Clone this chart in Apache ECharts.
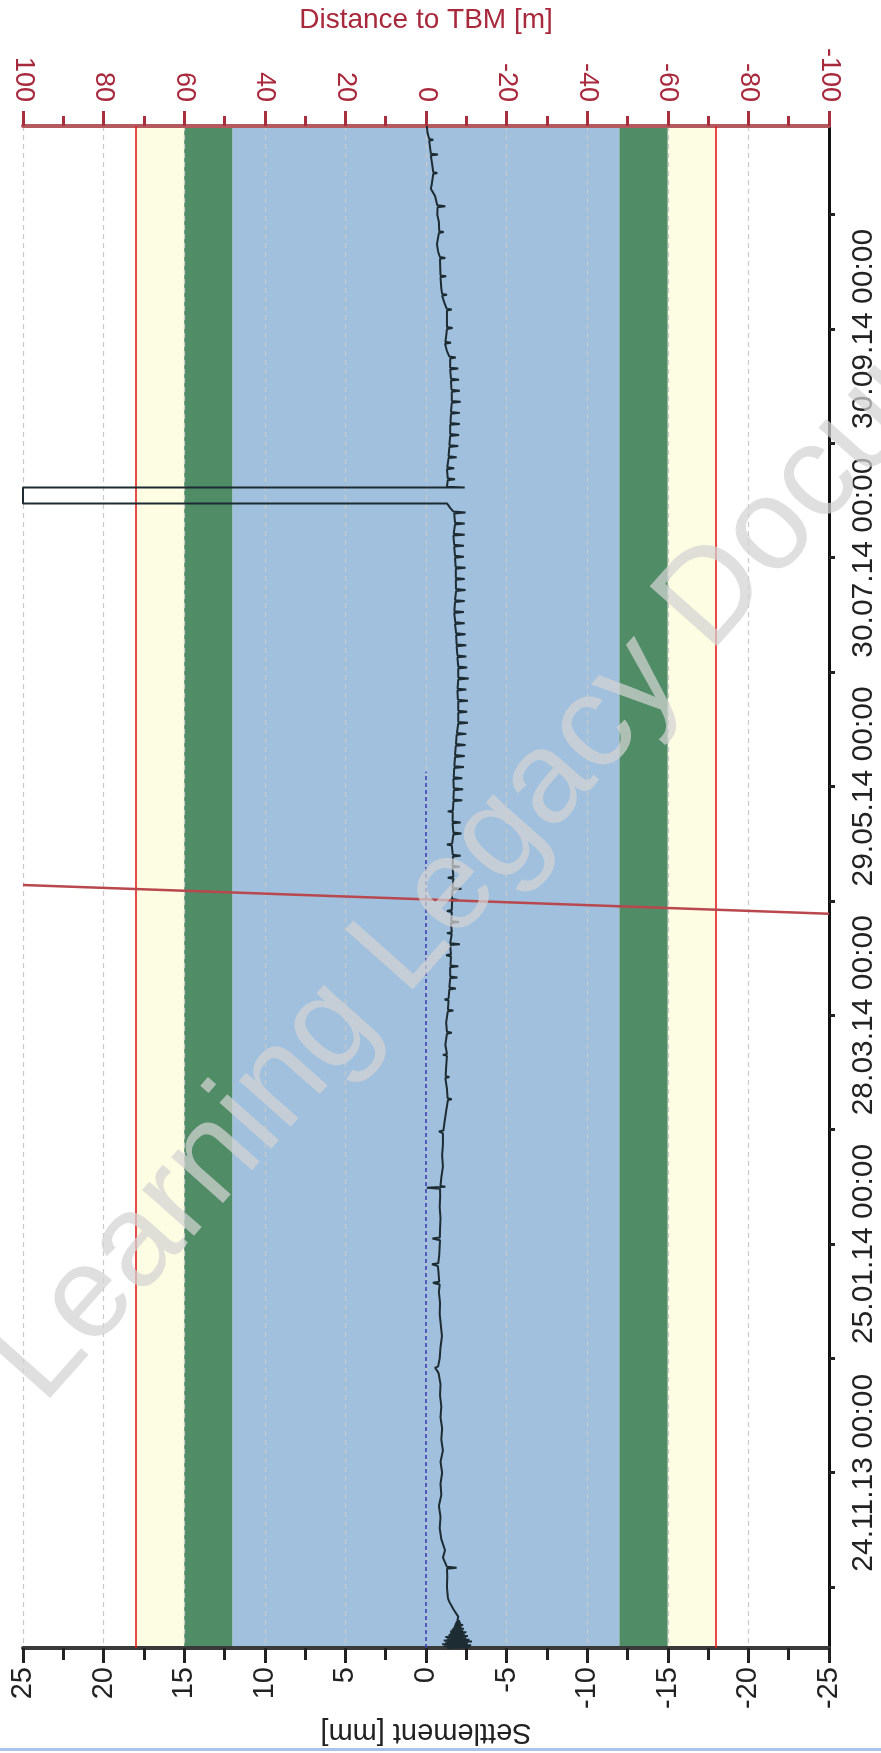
<!DOCTYPE html>
<html>
<head>
<meta charset="utf-8">
<script src="https://cdn.jsdelivr.net/npm/echarts@6/dist/echarts.min.js"></script>
<style>
html,body{margin:0;padding:0;background:#fff;}
#chart{width:881px;height:1753px;}
</style>
</head>
<body>
<div id="chart"></div>
<script>
// ---------- DATA ----------
// Settlement [mm] readings: [date 'YYYY-MM-DD HH', value]
const settlementPoints = [
 ['2013-10-07 12',-1.3],['2013-10-07 18',-2.7],['2013-10-08 00',-1.1],['2013-10-08 06',-2.8],
 ['2013-10-08 12',-1.0],['2013-10-08 18',-2.6],['2013-10-09 00',-1.2],['2013-10-09 06',-2.85],
 ['2013-10-09 12',-1.1],['2013-10-09 18',-2.7],['2013-10-10 00',-1.3],['2013-10-10 06',-2.5],
 ['2013-10-10 12',-1.2],['2013-10-10 18',-2.6],['2013-10-11 00',-1.4],['2013-10-11 06',-2.4],
 ['2013-10-11 12',-1.5],['2013-10-11 18',-2.5],['2013-10-12 00',-1.5],['2013-10-12 06',-2.3],
 ['2013-10-12 12',-1.6],['2013-10-12 18',-2.35],['2013-10-13 00',-1.7],['2013-10-13 06',-2.2],
 ['2013-10-13 12',-1.75],['2013-10-13 18',-2.3],['2013-10-14 00',-1.8],['2013-10-14 06',-2.15],
 ['2013-10-14 12',-1.85],['2013-10-14 18',-2.1],['2013-10-15 00',-1.95],['2013-10-16 00',-2.0],
 ['2013-10-18 00',-1.7],['2013-10-20 00',-1.45],['2013-10-21 00',-1.36],['2013-10-24 00',-1.3],
 ['2013-10-27 00',-1.32],['2013-10-29 00',-1.3],['2013-10-29 06',-1.9],['2013-10-29 12',-1.3],
 ['2013-10-30 00',-1.36],['2013-11-01 00',-1.05],['2013-11-03 00',-1.18],['2013-11-06 00',-0.95],
 ['2013-11-09 00',-0.85],['2013-11-12 00',-0.9],['2013-11-15 00',-0.8],['2013-11-18 00',-0.95],
 ['2013-11-21 00',-0.9],['2013-11-24 00',-1.0],['2013-11-27 00',-0.9],['2013-11-30 00',-1.05],
 ['2013-12-03 00',-0.95],['2013-12-06 00',-1.0],['2013-12-09 00',-0.9],['2013-12-12 00',-0.95],
 ['2013-12-15 00',-0.87],['2013-12-18 00',-0.9],['2013-12-21 00',-0.78],['2013-12-22 12',-0.56],
 ['2013-12-22 18',-0.75],['2013-12-25 00',-0.85],['2013-12-28 00',-0.9],['2013-12-31 00',-0.99],
 ['2014-01-03 00',-0.92],['2014-01-06 00',-0.85],['2014-01-09 00',-0.87],['2014-01-12 00',-0.8],
 ['2014-01-14 00',-0.85],['2014-01-14 12',-0.43],['2014-01-14 18',-0.82],['2014-01-17 00',-0.78],
 ['2014-01-19 00',-0.74],['2014-01-19 12',-0.37],['2014-01-19 18',-0.76],['2014-01-22 00',-0.82],
 ['2014-01-26 00',-0.87],['2014-01-26 12',-0.4],['2014-01-26 18',-0.86],['2014-01-29 00',-0.87],
 ['2014-02-01 00',-0.9],['2014-02-04 00',-0.85],['2014-02-07 00',-0.88],['2014-02-09 00',-0.87],
 ['2014-02-09 06',-0.05],['2014-02-09 12',-1.2],['2014-02-09 18',-0.9],['2014-02-12 00',-0.95],
 ['2014-02-15 00',-1.05],['2014-02-18 00',-1.0],['2014-02-21 00',-1.05],['2014-02-24 00',-1.05],
 ['2014-02-24 12',-0.8],['2014-02-24 18',-1.08],['2014-02-27 00',-1.15],
 ['2014-03-02 00',-1.25],
 ['2014-03-05 00',-1.36],['2014-03-05 06',-1.6],['2014-03-05 12',-1.34],
 ['2014-03-08 00',-1.3],
 ['2014-03-11 00',-1.2],['2014-03-11 06',-1.45],['2014-03-11 12',-1.22],
 ['2014-03-14 00',-1.25],
 ['2014-03-17 00',-1.3],['2014-03-17 06',-1.05],['2014-03-17 12',-1.3],
 ['2014-03-20 00',-1.2],
 ['2014-03-23 00',-1.3],['2014-03-23 06',-1.6],['2014-03-23 12',-1.3],
 ['2014-03-26 00',-1.25],
 ['2014-03-29 00',-1.35],['2014-03-29 06',-1.7],['2014-03-29 12',-1.36],
 ['2014-04-01 00',-1.4],['2014-04-01 06',-1.15],['2014-04-01 12',-1.4],
 ['2014-04-04 00',-1.45],['2014-04-04 06',-1.85],['2014-04-04 12',-1.45],
 ['2014-04-07 00',-1.5],['2014-04-07 06',-1.95],['2014-04-07 12',-1.5],
 ['2014-04-10 00',-1.5],['2014-04-10 06',-2.0],['2014-04-10 12',-1.52],
 ['2014-04-13 00',-1.55],['2014-04-13 06',-1.25],['2014-04-13 12',-1.55],
 ['2014-04-16 00',-1.5],['2014-04-16 06',-2.1],['2014-04-16 12',-1.5],
 ['2014-04-19 00',-1.6],['2014-04-19 06',-1.3],['2014-04-19 12',-1.6],
 ['2014-04-22 00',-1.55],['2014-04-22 06',-2.05],['2014-04-22 12',-1.57],
 ['2014-04-25 00',-1.6],['2014-04-25 06',-1.3],['2014-04-25 12',-1.6],
 ['2014-04-28 00',-1.62],['2014-04-28 06',-2.0],['2014-04-28 12',-1.6],
 ['2014-05-01 00',-1.65],['2014-05-01 06',-2.2],['2014-05-01 12',-1.65],
 ['2014-05-04 00',-1.7],['2014-05-04 06',-1.35],['2014-05-04 12',-1.7],
 ['2014-05-07 00',-1.65],['2014-05-07 06',-2.1],['2014-05-07 12',-1.65],
 ['2014-05-10 00',-1.67],['2014-05-10 06',-2.15],['2014-05-10 12',-1.66],
 ['2014-05-13 00',-1.6],['2014-05-13 06',-1.3],['2014-05-13 12',-1.62],
 ['2014-05-16 00',-1.7],['2014-05-16 06',-2.2],['2014-05-16 12',-1.7],
 ['2014-05-19 00',-1.65],['2014-05-19 06',-2.15],['2014-05-19 12',-1.65],
 ['2014-05-22 00',-1.66],['2014-05-22 06',-1.35],['2014-05-22 12',-1.67],
 ['2014-05-25 00',-1.7],['2014-05-25 06',-2.25],['2014-05-25 12',-1.7],
 ['2014-05-28 00',-1.73],['2014-05-28 06',-2.3],['2014-05-28 12',-1.72],
 ['2014-05-31 00',-1.7],['2014-05-31 06',-2.25],['2014-05-31 12',-1.72],
 ['2014-06-03 00',-1.75],['2014-06-03 06',-2.35],['2014-06-03 12',-1.76],
 ['2014-06-06 00',-1.8],['2014-06-06 06',-2.4],['2014-06-06 12',-1.8],
 ['2014-06-09 00',-1.85],['2014-06-09 06',-2.45],['2014-06-09 12',-1.86],
 ['2014-06-12 00',-1.9],['2014-06-12 06',-2.5],['2014-06-12 12',-1.92],
 ['2014-06-15 00',-2.0],['2014-06-15 06',-2.6],['2014-06-15 12',-2.0],
 ['2014-06-18 00',-2.0],['2014-06-18 06',-2.55],['2014-06-18 12',-2.0],
 ['2014-06-21 00',-2.0],['2014-06-21 06',-2.6],['2014-06-21 12',-1.98],
 ['2014-06-24 00',-1.95],['2014-06-24 06',-2.5],['2014-06-24 12',-1.96],
 ['2014-06-27 00',-2.0],['2014-06-27 06',-2.65],['2014-06-27 12',-2.0],
 ['2014-06-30 00',-2.0],['2014-06-30 06',-2.55],['2014-06-30 12',-2.0],
 ['2014-07-03 00',-1.95],['2014-07-03 06',-2.5],['2014-07-03 12',-1.95],
 ['2014-07-06 00',-1.9],['2014-07-06 06',-2.5],['2014-07-06 12',-1.9],
 ['2014-07-09 00',-1.87],['2014-07-09 06',-2.45],['2014-07-09 12',-1.87],
 ['2014-07-12 00',-1.8],['2014-07-12 06',-2.4],['2014-07-12 12',-1.82],
 ['2014-07-15 00',-1.75],['2014-07-15 06',-2.35],['2014-07-15 12',-1.76],
 ['2014-07-18 00',-1.8],['2014-07-18 06',-2.4],['2014-07-18 12',-1.8],
 ['2014-07-21 00',-1.87],['2014-07-21 06',-2.45],['2014-07-21 12',-1.86],
 ['2014-07-24 00',-1.85],['2014-07-24 06',-2.4],['2014-07-24 12',-1.85],
 ['2014-07-27 00',-1.85],['2014-07-27 06',-2.45],['2014-07-27 12',-1.84],
 ['2014-07-30 00',-1.8],['2014-07-30 06',-2.35],['2014-07-30 12',-1.8],
 ['2014-08-02 00',-1.75],['2014-08-02 06',-2.35],['2014-08-02 12',-1.75],
 ['2014-08-05 00',-1.7],['2014-08-05 06',-2.4],['2014-08-05 12',-1.72],
 ['2014-08-08 00',-1.8],['2014-08-08 06',-2.4],['2014-08-08 12',-1.8],
 ['2014-08-11 00',-1.75],['2014-08-11 06',-2.45],['2014-08-11 12',-1.7],
 ['2014-08-12 12',-1.5],
 ['2014-08-13 17',-1.3],['2014-08-13 17',25],['2014-08-18 00',25],['2014-08-18 00',-2.4],
 ['2014-08-18 06',-1.3],
 ['2014-08-20 00',-1.35],['2014-08-20 06',-1.8],['2014-08-20 12',-1.35],
 ['2014-08-23 00',-1.3],['2014-08-23 06',-1.75],['2014-08-23 12',-1.32],
 ['2014-08-26 00',-1.4],['2014-08-26 06',-1.9],['2014-08-26 12',-1.4],
 ['2014-08-29 00',-1.45],['2014-08-29 06',-2.0],['2014-08-29 12',-1.45],
 ['2014-09-01 00',-1.5],['2014-09-01 06',-2.05],['2014-09-01 12',-1.5],
 ['2014-09-04 00',-1.5],['2014-09-04 06',-2.1],['2014-09-04 12',-1.52],
 ['2014-09-07 00',-1.55],['2014-09-07 06',-2.1],['2014-09-07 12',-1.55],
 ['2014-09-10 00',-1.6],['2014-09-10 06',-2.15],['2014-09-10 12',-1.6],
 ['2014-09-13 00',-1.6],['2014-09-13 06',-2.1],['2014-09-13 12',-1.58],
 ['2014-09-16 00',-1.55],['2014-09-16 06',-2.05],['2014-09-16 12',-1.55],
 ['2014-09-19 00',-1.5],['2014-09-19 06',-2.0],['2014-09-19 12',-1.5],
 ['2014-09-22 00',-1.5],['2014-09-22 06',-1.85],['2014-09-22 12',-1.45],
 ['2014-09-24 00',-1.3],
 ['2014-09-26 00',-1.18],['2014-09-26 06',-1.55],['2014-09-26 12',-1.2],
 ['2014-09-28 00',-1.25],
 ['2014-09-30 00',-1.3],['2014-09-30 06',-1.65],['2014-09-30 12',-1.3],
 ['2014-10-03 00',-1.3],
 ['2014-10-05 00',-1.3],['2014-10-05 06',-1.6],['2014-10-05 12',-1.28],
 ['2014-10-07 00',-1.15],
 ['2014-10-09 00',-1.0],['2014-10-09 06',-1.3],['2014-10-09 12',-1.0],
 ['2014-10-11 00',-0.95],
 ['2014-10-14 00',-0.9],['2014-10-14 06',-1.25],['2014-10-14 12',-0.9],
 ['2014-10-17 00',-0.88],
 ['2014-10-19 00',-0.87],['2014-10-19 06',-1.2],['2014-10-19 12',-0.86],
 ['2014-10-21 00',-0.75],
 ['2014-10-23 00',-0.68],
 ['2014-10-26 00',-0.8],['2014-10-26 06',-1.1],['2014-10-26 12',-0.82],
 ['2014-10-29 00',-0.8],
 ['2014-10-31 00',-0.7],
 ['2014-11-02 00',-0.72],['2014-11-02 06',-1.2],['2014-11-02 12',-0.7],
 ['2014-11-05 00',-0.56],
 ['2014-11-07 00',-0.3],
 ['2014-11-08 00',-0.35],
 ['2014-11-11 00',-0.45],['2014-11-11 06',-0.7],['2014-11-11 12',-0.45],
 ['2014-11-14 00',-0.37],
 ['2014-11-16 00',-0.3],['2014-11-16 06',-0.74],['2014-11-16 12',-0.3],
 ['2014-11-20 00',-0.2],['2014-11-20 06',-0.45],['2014-11-20 12',-0.2],
 ['2014-11-22 00',-0.1],
 ['2014-11-24 00',-0.05]
];
// Distance to TBM [m]
const tbmDates = ['2014-04-24 12', '2014-05-02 07'];
const tbmDistance = [-100, 100];
// zero reference (dashed blue)
const zeroDates = ['2013-10-07 12', '2014-06-02 00'];
const zeroValues = [0, 0];
// settlement limit bands [mm]
const bandInner = 12, bandMid = 15, bandOuter = 18;
// time axis
const timeMin = '2013-10-07 12', timeMax = '2014-11-24 00';
const tickDates = ['2013-10-24','2013-11-24','2013-12-25','2014-01-25','2014-02-25','2014-03-28',
  '2014-04-28','2014-05-29','2014-06-29','2014-07-30','2014-08-30','2014-09-30','2014-10-31'];
const labelDates = ['2013-11-24','2014-01-25','2014-03-28','2014-05-29','2014-07-30','2014-09-30'];

// ---------- HELPERS ----------
function t(s){
  const [d, h] = s.split(' ');
  const [y, m, dd] = d.split('-').map(Number);
  return Date.UTC(y, m - 1, dd, h ? Number(h) : 0);
}
function pad(n){ return (n < 10 ? '0' : '') + n; }
function fmt(v){
  const d = new Date(v);
  return pad(d.getUTCDate()) + '.' + pad(d.getUTCMonth() + 1) + '.' + String(d.getUTCFullYear()).slice(2) + ' 00:00';
}
const FONT = 'Liberation Sans, Arial, sans-serif';
const red = '#a8283c';

const settlementData = settlementPoints.map(p => [p[1], t(p[0])]);
const tbmData = tbmDates.map((d, i) => [tbmDistance[i], t(d)]);
const zeroData = zeroDates.map((d, i) => [zeroValues[i], t(d)]);

const chart = echarts.init(document.getElementById('chart'), null, {renderer: 'canvas'});
chart.setOption({
  animation: false,
  backgroundColor: '#fff',
  textStyle: {fontFamily: FONT},
  grid: {left: 23, right: 52, top: 126, bottom: 105, containLabel: false, outerBoundsMode: 'none'},
  xAxis: [
    {
      type: 'value', position: 'bottom', inverse: true, min: -25, max: 25, interval: 5, z: 3,
      name: 'Settlement [mm]', nameLocation: 'middle', nameGap: 69, nameRotate: 180, nameMoveOverlap: false,
      nameTextStyle: {fontSize: 29, color: '#222', fontFamily: FONT},
      axisLine: {show: true, onZero: false, lineStyle: {color: '#3a3a3a', width: 4}},
      axisTick: {show: true, length: 15, lineStyle: {color: '#222', width: 3}},
      minorTick: {show: true, splitNumber: 2, length: 12, lineStyle: {color: '#222', width: 3}},
      axisLabel: {rotate: 90, fontSize: 29, color: '#222', margin: 19, fontFamily: FONT},
      splitLine: {show: true, lineStyle: {color: '#c9c9c9', type: [5, 4], width: 1.2}}
    },
    {
      type: 'value', position: 'top', inverse: true, min: -100, max: 100, interval: 20, z: 3,
      name: 'Distance to TBM [m]', nameLocation: 'middle', nameGap: 92, nameMoveOverlap: false,
      nameTextStyle: {fontSize: 28, color: red, fontFamily: FONT},
      axisLine: {show: true, onZero: false, lineStyle: {color: '#b45a5e', width: 4}},
      axisTick: {show: true, length: 15, lineStyle: {color: '#a8303e', width: 3}},
      minorTick: {show: true, splitNumber: 2, length: 10, lineStyle: {color: '#a8303e', width: 3}},
      axisLabel: {rotate: 90, fontSize: 27, color: red, margin: 24, fontFamily: FONT},
      splitLine: {show: false}
    }
  ],
  yAxis: {
    type: 'value', position: 'right', min: t(timeMin), max: t(timeMax), z: 3,
    axisLine: {show: true, onZero: false, lineStyle: {color: '#111', width: 3}},
    axisTick: {show: true, length: 6, customValues: tickDates.map(t), lineStyle: {color: '#222', width: 3}},
    axisLabel: {rotate: 90, fontSize: 30, color: '#222', margin: 20, fontFamily: FONT,
      customValues: labelDates.map(t), formatter: fmt},
    splitLine: {show: false}
  },
  graphic: [
    {type: 'text', x: 16, y: 1382, rotation: 0.845, z: 100, silent: true,
      style: {text: 'Learning Legacy Document', fontSize: 131, fontFamily: FONT,
        fill: 'rgba(210,210,210,0.72)', textVerticalAlign: 'middle', textAlign: 'left'}},
    {type: 'rect', shape: {x: 0, y: 1748, width: 881, height: 3}, style: {fill: '#a9c4ea'}, z: 100}
  ],
  series: [
    {
      name: 'bands', type: 'line', xAxisIndex: 0, yAxisIndex: 0, data: [], z: 1, silent: true,
      markArea: {
        silent: true,
        data: [
          [{xAxis: bandOuter, itemStyle: {color: '#fdfde3'}}, {xAxis: bandMid}],
          [{xAxis: bandMid, itemStyle: {color: '#508c66'}}, {xAxis: bandInner}],
          [{xAxis: bandInner, itemStyle: {color: '#a0c0de'}}, {xAxis: -bandInner}],
          [{xAxis: -bandInner, itemStyle: {color: '#508c66'}}, {xAxis: -bandMid}],
          [{xAxis: -bandMid, itemStyle: {color: '#fdfde3'}}, {xAxis: -bandOuter}]
        ]
      },
      markLine: {
        silent: true, symbol: 'none', label: {show: false},
        lineStyle: {color: '#e01e1e', width: 1.6, type: 'solid'},
        data: [{xAxis: bandOuter}, {xAxis: -bandOuter}]
      }
    },
    {
      name: 'zero', type: 'line', xAxisIndex: 0, yAxisIndex: 0, data: zeroData, z: 4,
      symbol: 'none', lineStyle: {color: '#3b3fb5', width: 1.6, type: [4, 3]}
    },
    {
      name: 'Settlement', type: 'line', xAxisIndex: 0, yAxisIndex: 0, data: settlementData, z: 5,
      symbol: 'none', clip: true, lineStyle: {color: '#1d2b33', width: 2}
    },
    {
      name: 'Distance to TBM', type: 'line', xAxisIndex: 1, yAxisIndex: 0, data: tbmData, z: 6,
      symbol: 'none', clip: true, lineStyle: {color: '#b8484e', width: 2.4}
    }
  ]
});
</script>
</body>
</html>
